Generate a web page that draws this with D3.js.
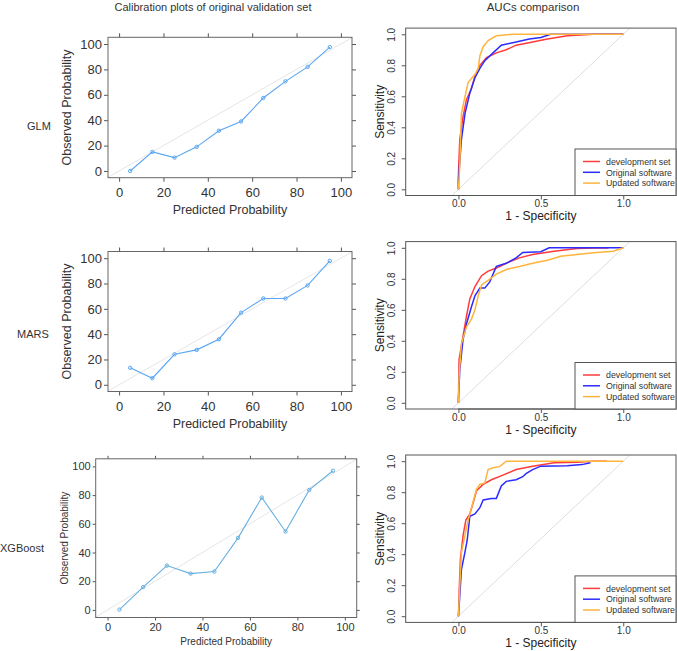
<!DOCTYPE html>
<html>
<head>
<meta charset="utf-8">
<script src="https://cdn.jsdelivr.net/npm/d3@7"></script>
<style>
body { margin: 0; background: #fff; }
svg { display: block; font-family: "Liberation Sans", Arial, sans-serif; }
</style>
</head>
<body>
<svg id="chart"></svg>
<script>
var width = 677, height = 651

// calibration: predicted decile midpoints vs observed (%)
var predicted = [5, 15, 25, 35, 45, 55, 65, 75, 85, 95]
var glmObserved = [0, 15, 10.5, 19, 31.7, 39, 57.5, 70.6, 82, 97.6]
var marsObserved = [13.4, 5.2, 24.1, 27.6, 36, 57, 68.2, 68.2, 78.5, 97.9]
var xgbObserved = [0.2, 15.9, 30.9, 25.3, 26.7, 50.2, 78.3, 54.6, 83.6, 97]
var calTicks = [0, 20, 40, 60, 80, 100]

var modelNames = ["GLM", "MARS", "XGBoost"]
var legendLabels = ["development set", "Original software", "Updated software"]
var rocXTicks = [0, 0.5, 1]
var rocYTicks = [0, 0.2, 0.4, 0.6, 0.8, 1]

// ROC curves, [1 - specificity, sensitivity]
var glmDev = [[0,0],[0,0.1],[0.008,0.32],[0.028,0.47],[0.049,0.58],[0.079,0.65],[0.1,0.73],[0.13,0.8],[0.17,0.85],[0.23,0.88],[0.29,0.9],[0.35,0.93],[0.45,0.95],[0.54,0.97],[0.66,0.99],[0.82,1],[1,1]]
var glmOrig = [[0,0],[0,0.06],[0.018,0.32],[0.04,0.49],[0.069,0.62],[0.1,0.72],[0.13,0.78],[0.16,0.83],[0.21,0.88],[0.26,0.93],[0.35,0.95],[0.43,0.97],[0.5,0.98],[0.56,1],[1,1]]
var glmUpd = [[0,0],[0.008,0.15],[0.018,0.49],[0.04,0.6],[0.059,0.69],[0.1,0.74],[0.12,0.78],[0.13,0.86],[0.15,0.92],[0.18,0.96],[0.23,0.99],[0.33,1],[1,1]]

var marsDev = [[0,0],[0.002,0.17],[0.004,0.28],[0.028,0.43],[0.049,0.56],[0.069,0.67],[0.1,0.75],[0.14,0.82],[0.18,0.85],[0.23,0.87],[0.31,0.91],[0.37,0.935],[0.45,0.957],[0.58,0.978],[0.72,0.996],[0.82,0.998],[0.91,0.998]]
var marsOrig = [[0,0],[0,0.02],[0.008,0.21],[0.028,0.41],[0.049,0.51],[0.079,0.62],[0.1,0.69],[0.13,0.74],[0.16,0.74],[0.19,0.78],[0.23,0.88],[0.29,0.9],[0.35,0.935],[0.39,0.97],[0.5,0.975],[0.55,1],[1,1]]
var marsUpd = [[0,0],[0.004,0.17],[0.018,0.38],[0.049,0.49],[0.079,0.54],[0.1,0.6],[0.12,0.69],[0.14,0.76],[0.18,0.79],[0.23,0.83],[0.29,0.86],[0.37,0.88],[0.45,0.9],[0.54,0.92],[0.62,0.946],[0.72,0.957],[0.82,0.968],[0.94,0.978],[1,1]]

var xgbDev = [[0,0],[0.004,0.15],[0.012,0.37],[0.028,0.52],[0.045,0.62],[0.069,0.66],[0.089,0.73],[0.11,0.81],[0.15,0.85],[0.2,0.88],[0.27,0.91],[0.35,0.946],[0.45,0.968],[0.58,0.99],[0.72,0.994],[0.82,1],[0.9,1]]
var xgbOrig = [[0,0],[0.008,0.13],[0.018,0.3],[0.039,0.41],[0.053,0.49],[0.069,0.645],[0.1,0.66],[0.13,0.7],[0.15,0.75],[0.2,0.76],[0.23,0.76],[0.26,0.84],[0.29,0.87],[0.35,0.88],[0.39,0.9],[0.41,0.92],[0.45,0.946],[0.5,0.968],[0.66,0.97],[0.75,0.978],[0.8,0.99]]
var xgbUpd = [[0,0],[0.008,0.19],[0.018,0.41],[0.039,0.52],[0.059,0.62],[0.079,0.7],[0.11,0.82],[0.13,0.85],[0.16,0.86],[0.18,0.946],[0.21,0.958],[0.25,0.965],[0.29,1],[1,1]]

var rocColors = ["#ff3b3b", "#2b2bff", "#ffb43c"]

var svg = d3.select("#chart")
    .attr("width", width)
    .attr("height", height)
    .style("background", "white")

// column titles
svg.append("text")
    .attr("x", 213).attr("y", 11)
    .attr("text-anchor", "middle")
    .style("font-size", "11px").style("fill", "#333")
    .text("Calibration plots of original validation set")
svg.append("text")
    .attr("x", 533).attr("y", 11)
    .attr("text-anchor", "middle")
    .style("font-size", "11.5px").style("fill", "#333")
    .text("AUCs comparison")

// ---- calibration panels (lattice style) ----
var calPanels = [
    {obs: glmObserved, x0: 108, x1: 352, y0: 37.3, y1: 177.7, tick: 13, title: 12.5, tickLen: 4, pad: 6,
        ylabX: 66, titleY: 213.5, nameX: 27, nameY: 130, nameSize: 11, color: "#5aa6f2"},
    {obs: marsObserved, x0: 108, x1: 352, y0: 251.5, y1: 391.5, tick: 13, title: 12.5, tickLen: 4, pad: 6,
        ylabX: 66, titleY: 427.5, nameX: 17, nameY: 338, nameSize: 11, color: "#5aa6f2"},
    {obs: xgbObserved, x0: 95.7, x1: 356.7, y0: 458.8, y1: 617.5, tick: 11, title: 10, tickLen: 3, pad: 3,
        ylabX: 64, titleY: 644.5, nameX: 0, nameY: 552, nameSize: 11, color: "#68b0e0"}
]

calPanels.forEach(function(p, i) {
    var x = d3.scaleLinear().domain([-5, 105]).range([p.x0, p.x1])
    var y = d3.scaleLinear().domain([-5.3, 105.3]).range([p.y1, p.y0])
    var g = svg.append("g")

    function styleAxis(sel) {
        sel.select(".domain").remove()
        sel.selectAll("line").attr("stroke", "#555")
        sel.selectAll("text").style("font-size", p.tick + "px").style("fill", "#333")
            .style("font-family", "Liberation Sans, Arial, sans-serif")
    }

    g.append("g").attr("transform", "translate(" + p.x0 + ",0)")
        .call(d3.axisLeft(y).tickValues(calTicks).tickSize(p.tickLen).tickPadding(2))
        .call(styleAxis)
    g.append("g").attr("transform", "translate(" + p.x1 + ",0)")
        .call(d3.axisRight(y).tickValues(calTicks).tickSize(p.tickLen).tickFormat(""))
        .call(styleAxis)
    g.append("g").attr("transform", "translate(0," + p.y1 + ")")
        .call(d3.axisBottom(x).tickValues(calTicks).tickSize(p.tickLen).tickPadding(p.pad))
        .call(styleAxis)
    g.append("g").attr("transform", "translate(0," + p.y0 + ")")
        .call(d3.axisTop(x).tickValues(calTicks).tickSize(p.tickLen).tickFormat(""))
        .call(styleAxis)

    // reference diagonal
    g.append("line")
        .attr("x1", x(-5)).attr("y1", y(-5))
        .attr("x2", x(105)).attr("y2", y(105))
        .attr("stroke", "#e6e6e6").attr("stroke-width", 1)

    g.append("rect")
        .attr("x", p.x0).attr("y", p.y0)
        .attr("width", p.x1 - p.x0).attr("height", p.y1 - p.y0)
        .attr("fill", "none").attr("stroke", "#666").attr("stroke-width", 1)

    var pts = predicted.map(function(d, j) { return [d, p.obs[j]] })
    g.append("path")
        .datum(pts)
        .attr("d", d3.line().x(function(d) { return x(d[0]) }).y(function(d) { return y(d[1]) }))
        .attr("fill", "none").attr("stroke", p.color).attr("stroke-width", 1.1)
    g.selectAll("circle")
        .data(pts)
        .enter()
        .append("circle")
            .attr("cx", function(d) { return x(d[0]) })
            .attr("cy", function(d) { return y(d[1]) })
            .attr("r", 1.7)
            .attr("fill", "none")
            .attr("stroke", p.color)

    g.append("text")
        .attr("x", (p.x0 + p.x1) / 2).attr("y", p.titleY)
        .attr("text-anchor", "middle")
        .style("font-size", p.title + "px").style("fill", "#333")
        .text("Predicted Probability")
    g.append("text")
        .attr("transform", "translate(" + (p.ylabX + p.title * 0.36) + "," + (p.y0 + p.y1) / 2 + ") rotate(-90)")
        .attr("text-anchor", "middle")
        .style("font-size", p.title + "px").style("fill", "#333")
        .text("Observed Probability")
    g.append("text")
        .attr("x", p.nameX).attr("y", p.nameY)
        .style("font-size", p.nameSize + "px").style("fill", "#333")
        .text(modelNames[i])
})

// ---- ROC panels (base R / pROC style) ----
var rocPanels = [
    {top: 28.1, bottom: 195.5, curves: [glmDev, glmOrig, glmUpd]},
    {top: 241.6, bottom: 409, curves: [marsDev, marsOrig, marsUpd]},
    {top: 455, bottom: 622.4, curves: [xgbDev, xgbOrig, xgbUpd]}
]
var rocLeft = 405.7, rocRight = 676

rocPanels.forEach(function(p) {
    var x = d3.scaleLinear().domain([-0.32, 1.32]).range([rocLeft, rocRight])
    var y = d3.scaleLinear().domain([-0.04, 1.04]).range([p.bottom, p.top])
    var g = svg.append("g")

    g.append("line")
        .attr("x1", x(-0.04)).attr("y1", y(-0.04))
        .attr("x2", x(1.04)).attr("y2", y(1.04))
        .attr("stroke", "#dedede").attr("stroke-width", 1)

    var line = d3.line()
        .x(function(d) { return x(d[0]) })
        .y(function(d) { return y(d[1]) })
    p.curves.forEach(function(c, k) {
        g.append("path")
            .datum(c)
            .attr("d", line)
            .attr("fill", "none")
            .attr("stroke", rocColors[k])
            .attr("stroke-width", 1.5)
    })

    g.append("rect")
        .attr("x", rocLeft).attr("y", p.top)
        .attr("width", rocRight - rocLeft).attr("height", p.bottom - p.top)
        .attr("fill", "none").attr("stroke", "#555").attr("stroke-width", 1)

    var xa = g.append("g").attr("transform", "translate(0," + p.bottom + ")")
        .call(d3.axisBottom(x).tickValues(rocXTicks).tickSize(4).tickPadding(0.5).tickFormat(d3.format(".1f")))
    xa.select(".domain").attr("stroke", "#555").attr("d", "M" + x(0) + ",0H" + x(1))
    xa.selectAll("line").attr("stroke", "#555")
    xa.selectAll("text").style("font-size", "10px").style("fill", "#333")
        .style("font-family", "Liberation Sans, Arial, sans-serif")

    var ya = g.append("g").attr("transform", "translate(" + rocLeft + ",0)")
        .call(d3.axisLeft(y).tickValues(rocYTicks).tickSize(4).tickFormat(d3.format(".1f")))
    ya.select(".domain").remove()
    ya.selectAll("line").attr("stroke", "#555")
    ya.selectAll("text")
        .attr("x", null).attr("dy", null)
        .attr("text-anchor", "middle")
        .attr("transform", "translate(-10.5,0) rotate(-90)")
        .style("font-size", "10px").style("fill", "#333")
        .style("font-family", "Liberation Sans, Arial, sans-serif")

    g.append("text")
        .attr("x", x(0.5)).attr("y", p.bottom + 24.6)
        .attr("text-anchor", "middle")
        .style("font-size", "12px").style("fill", "#222")
        .text("1 - Specificity")
    g.append("text")
        .attr("transform", "translate(384," + (p.top + p.bottom) / 2 + ") rotate(-90)")
        .attr("text-anchor", "middle")
        .style("font-size", "12px").style("fill", "#222")
        .text("Sensitivity")

    // legend
    var lg = g.append("g")
    lg.append("rect")
        .attr("x", 575).attr("y", p.bottom - 46.5)
        .attr("width", 101).attr("height", 46.5)
        .attr("fill", "white").attr("stroke", "#555").attr("stroke-width", 1)
    var items = lg.selectAll(".item")
        .data(legendLabels)
        .enter()
        .append("g")
            .attr("class", "item")
            .attr("transform", function(d, k) { return "translate(0," + (p.bottom - 34 + k * 10.8) + ")" })
    items.append("line")
        .attr("x1", 583).attr("x2", 600)
        .attr("stroke", function(d, k) { return rocColors[k] })
        .attr("stroke-width", 1.5)
    items.append("text")
        .attr("x", 606).attr("y", 3.2)
        .style("font-size", "8.8px").style("fill", "#333")
        .text(function(d) { return d })
})
</script>
</body>
</html>
